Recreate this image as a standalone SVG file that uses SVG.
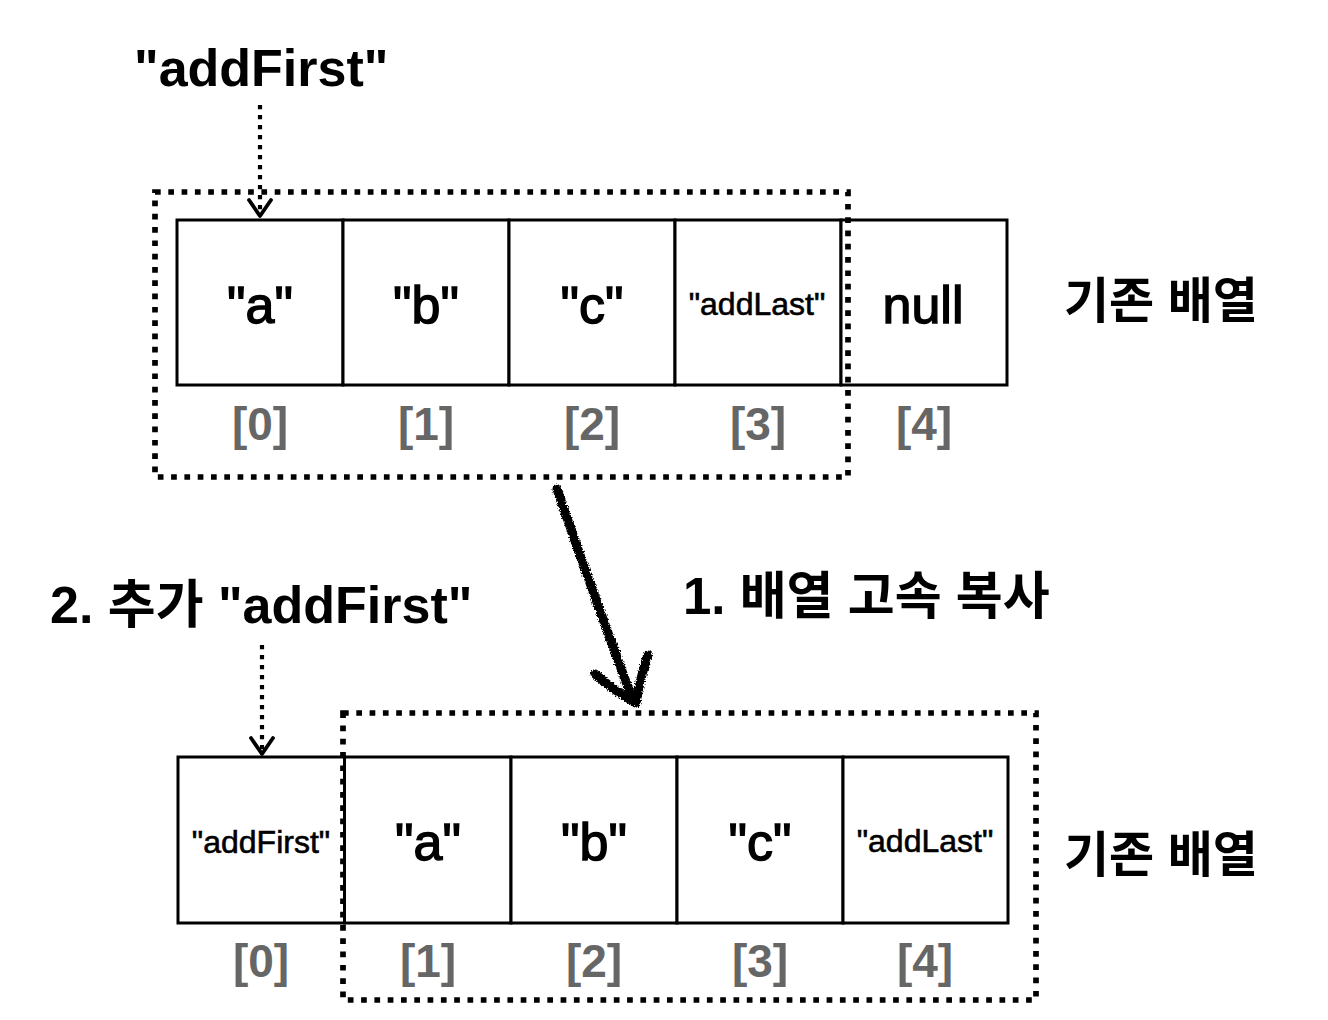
<svg xmlns="http://www.w3.org/2000/svg" width="1328" height="1020" viewBox="0 0 1328 1020">
<defs>
  <style>
    .cell { fill: #ffffff; stroke: #000000; stroke-width: 3; }
    .frame { fill: none; stroke: #000000; stroke-width: 5.7; stroke-dasharray: 5.7 7.6; }
    .dotline { fill: none; stroke: #000000; stroke-width: 4.2; stroke-dasharray: 4.2 5.8; }
    .head { fill: none; stroke: #000000; stroke-width: 3.8; stroke-linecap: round; stroke-linejoin: round; }
    .rough { fill: none; stroke: #000000; stroke-width: 9; stroke-linecap: round; stroke-linejoin: round; }
    .val { font-family: "Liberation Sans", Arial, sans-serif; font-size: 52px; fill: #000000; stroke: #000000; stroke-width: 1.4; text-anchor: middle; }
    .small { font-family: "Liberation Sans", Arial, sans-serif; font-size: 32px; fill: #000000; stroke: #000000; stroke-width: 0.6; text-anchor: middle; }
    .idx { font-family: "Liberation Sans", Arial, sans-serif; font-size: 46px; font-weight: bold; fill: #666666; text-anchor: middle; }
    .title { font-family: "Liberation Sans", Arial, "Noto Sans CJK KR", sans-serif; font-size: 52px; font-weight: bold; fill: #000000; }
    .ko { font-family: "Liberation Sans", "Noto Sans CJK KR", sans-serif; font-size: 49px; font-weight: bold; fill: #000000; }
    .ko2 { font-family: "Liberation Sans", "Noto Sans CJK KR", sans-serif; font-size: 51px; font-weight: bold; fill: #000000; }
  </style>
  <filter id="roughen" x="-20%" y="-20%" width="140%" height="140%">
    <feTurbulence type="fractalNoise" baseFrequency="0.7" numOctaves="2" seed="3" result="noise"/>
    <feDisplacementMap in="SourceGraphic" in2="noise" scale="5" xChannelSelector="R" yChannelSelector="G"/>
  </filter>
</defs>
<rect x="0" y="0" width="1328" height="1020" fill="#ffffff"/>

<!-- top array -->
<g id="top-array">
  <g id="top-cell-0"><rect class="cell" x="177" y="220" width="166" height="165"/><text class="val" x="260" y="323">"a"</text><text class="idx" x="260" y="440">[0]</text></g>
  <g id="top-cell-1"><rect class="cell" x="343" y="220" width="166" height="165"/><text class="val" x="426" y="323">"b"</text><text class="idx" x="426" y="440">[1]</text></g>
  <g id="top-cell-2"><rect class="cell" x="509" y="220" width="166" height="165"/><text class="val" x="592" y="323">"c"</text><text class="idx" x="592" y="440">[2]</text></g>
  <g id="top-cell-3"><rect class="cell" x="675" y="220" width="166" height="165"/><text class="small" x="757" y="315">"addLast"</text><text class="idx" x="758" y="440">[3]</text></g>
  <g id="top-cell-4"><rect class="cell" x="841" y="220" width="166" height="165"/><text class="val" x="923" y="323">null</text><text class="idx" x="924" y="440">[4]</text></g>
</g>
<g id="top-frame"><rect class="frame" x="155" y="192" width="693" height="285"/></g>
<g id="top-label"><text class="ko" x="1064" y="318">기존 배열</text></g>
<g id="top-title"><text class="title" x="134" y="86">"addFirst"</text></g>

<!-- bottom array -->
<g id="bottom-array">
  <g id="bot-cell-0"><rect class="cell" x="178" y="757" width="166.5" height="166"/><text class="small" x="261" y="853">"addFirst"</text><text class="idx" x="261" y="977">[0]</text></g>
  <g id="bot-cell-1"><rect class="cell" x="344.5" y="757" width="166.5" height="166"/><text class="val" x="428" y="860">"a"</text><text class="idx" x="428" y="977">[1]</text></g>
  <g id="bot-cell-2"><rect class="cell" x="511" y="757" width="166" height="166"/><text class="val" x="594" y="860">"b"</text><text class="idx" x="594" y="977">[2]</text></g>
  <g id="bot-cell-3"><rect class="cell" x="677" y="757" width="166" height="166"/><text class="val" x="760" y="860">"c"</text><text class="idx" x="760" y="977">[3]</text></g>
  <g id="bot-cell-4"><rect class="cell" x="843" y="757" width="165" height="166"/><text class="small" x="925" y="852">"addLast"</text><text class="idx" x="925" y="977">[4]</text></g>
</g>
<g id="bottom-frame"><rect class="frame" x="343" y="713" width="693" height="287"/></g>
<g id="bottom-label"><text class="ko" x="1064" y="872">기존 배열</text></g>
<g id="bottom-title"><text class="title" x="50" y="623">2. 추가 "addFirst"</text></g>
<g id="copy-label"><text class="ko2" x="683" y="614">1. 배열 고속 복사</text></g>

<!-- connectors -->
<g id="connectors">
  <line class="dotline" x1="260" y1="105" x2="260" y2="216"/>
  <polyline class="head" points="249,200 260,216 271,200"/>
  <line class="dotline" x1="262" y1="645" x2="262" y2="754"/>
  <polyline class="head" points="251,738 262,754 273,738"/>
  <g filter="url(#roughen)">
    <path class="rough" d="M557,489 Q590,585 632,698"/>
    <path class="rough" d="M595,674 Q616,692 636,703 Q640,678 648,655"/>
  </g>
</g>
</svg>
